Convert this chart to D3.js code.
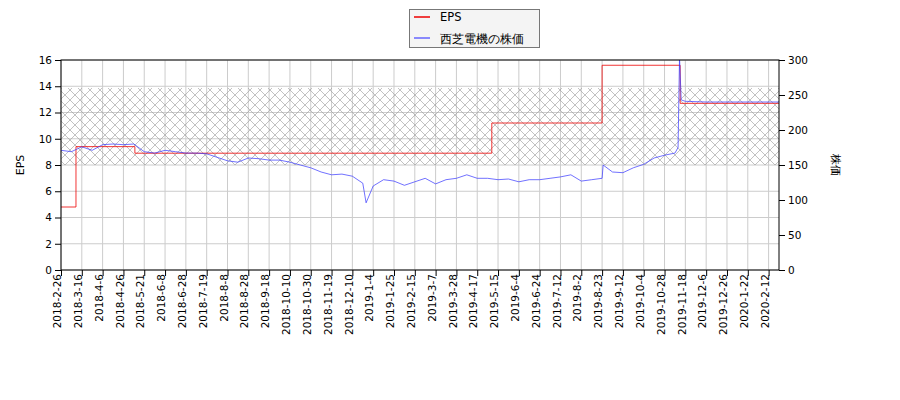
<!DOCTYPE html>
<html><head><meta charset="utf-8">
<script src="https://cdn.jsdelivr.net/npm/d3@7"></script>
<style>body{margin:0;background:#fff}text{font-family:"DejaVu Sans",sans-serif}</style>
</head><body>
<svg id="c" width="900" height="400"></svg>
<script>
// tick labels, one every 14 trading days
var tickLabels = ["2018-2-26","2018-3-16","2018-4-6","2018-4-26","2018-5-21","2018-6-8","2018-6-28","2018-7-19","2018-8-8","2018-8-28","2018-9-18","2018-10-10","2018-10-30","2018-11-19","2018-12-10","2019-1-4","2019-1-25","2019-2-15","2019-3-7","2019-3-28","2019-4-17","2019-5-15","2019-6-4","2019-6-24","2019-7-12","2019-8-2","2019-8-23","2019-9-12","2019-10-4","2019-10-28","2019-11-18","2019-12-6","2019-12-26","2020-1-22","2020-2-12"];

// stock price, positions in tick units
var priceX = [0,0.5,1,1.5,2,2.5,3,3.5,4,4.5,5,5.5,6,6.5,7,7.5,8,8.5,9,9.5,10,10.5,11,11.5,12,12.5,13,13.5,14,14.5,14.66,15,15.5,16,16.5,17,17.5,18,18.5,19,19.5,20,20.5,21,21.5,22,22.5,23,23.5,24,24.5,25,25.5,26,26.05,26.5,27,27.5,28,28.5,29,29.5,29.65,29.72,29.8,30,31,32,33,34,34.5];
var priceY = [171,169,176,171,179,180,179,180,169,167,171,169,167,167,166,161,156,154,160,159,157,157,154,150,146,140,136,137,134,124,96,120,129,127,121,126,131,123,129,131,136,131,131,129,130,126,129,129,131,133,136,127,129,131,150,140,139,146,151,160,164,167,175,304,243,241,240,240,240,240,240];

// EPS steps
var epsX = [0,0.72,3.55,20.7,26.0,29.75,34.5];
var epsY = [4.8,9.4,8.9,11.2,15.6,12.7,12.7];

var svg = d3.select("#c");
var m = {l:61, r:779, t:60, b:270};
var x = d3.scaleLinear().domain([0,34.5]).range([m.l,m.r]);
var yL = d3.scaleLinear().domain([0,16]).range([m.b,m.t]);
var yR = d3.scaleLinear().domain([0,300]).range([m.b,m.t]);

var pat = svg.append("defs").append("pattern").attr("id","h").attr("patternUnits","userSpaceOnUse").attr("width",10).attr("height",10);
pat.append("path").attr("d","M0,0L10,10M10,0L0,10").attr("stroke","#999").attr("stroke-width",0.6);

// grid
svg.append("g").selectAll("line").data(d3.range(0,35)).join("line")
  .attr("x1",d=>x(d)).attr("x2",d=>x(d)).attr("y1",m.t).attr("y2",m.b).attr("stroke","#ccc");
svg.append("g").selectAll("line").data(d3.range(0,17,2)).join("line")
  .attr("x1",m.l).attr("x2",m.r).attr("y1",d=>yL(d)).attr("y2",d=>yL(d)).attr("stroke","#ccc");

svg.append("rect").attr("x",m.l).attr("width",m.r-m.l).attr("y",yR(260)).attr("height",yR(150)-yR(260))
  .attr("fill","url(#h)");

var clip = svg.append("clipPath").attr("id","cl").append("rect").attr("x",m.l).attr("y",m.t).attr("width",m.r-m.l).attr("height",m.b-m.t);

svg.append("path").datum(epsX.map((d,i)=>[d,epsY[i]])).attr("fill","none").attr("stroke","#e00").attr("stroke-width",0.8)
  .attr("d",d3.line().x(d=>x(d[0])).y(d=>yL(d[1])).curve(d3.curveStepAfter));
svg.append("path").datum(priceX.map((d,i)=>[d,priceY[i]])).attr("clip-path","url(#cl)").attr("fill","none").attr("stroke","#33f").attr("stroke-width",0.7)
  .attr("d",d3.line().x(d=>x(d[0])).y(d=>yR(d[1])));

svg.append("rect").attr("x",m.l).attr("y",m.t).attr("width",m.r-m.l).attr("height",m.b-m.t).attr("fill","none").attr("stroke","#000");

var ax = svg.append("g").attr("transform","translate(0,"+m.b+")")
  .call(d3.axisBottom(x).tickValues(d3.range(0,35)).tickFormat(d=>tickLabels[d]).tickSizeOuter(0));
ax.selectAll("text").attr("transform","rotate(-90)").attr("text-anchor","end").attr("x",-4).attr("y",-4).attr("dy","0.35em");
svg.append("g").attr("transform","translate("+m.l+",0)").call(d3.axisLeft(yL).ticks(8).tickSizeOuter(0));
svg.append("g").attr("transform","translate("+m.r+",0)").call(d3.axisRight(yR).ticks(6).tickSizeOuter(0));
svg.selectAll(".tick text").attr("font-size",10.5).attr("font-family","DejaVu Sans");
svg.selectAll(".domain").remove();

svg.append("text").attr("transform","translate(24,165) rotate(-90)").attr("text-anchor","middle").attr("font-size",11).text("EPS");
svg.append("text").attr("transform","translate(832,165) rotate(90)").attr("text-anchor","middle").attr("font-size",11).attr("font-family","Noto Sans CJK JP").text("株価");

var lg = svg.append("g");
lg.append("rect").attr("x",409.5).attr("y",9.5).attr("width",130).attr("height",38).attr("fill","#f4f4f4").attr("stroke","#777");
lg.append("line").attr("x1",414).attr("x2",430).attr("y1",17).attr("y2",17).attr("stroke","#e00").attr("stroke-width",1.5);
lg.append("line").attr("x1",414).attr("x2",430).attr("y1",38).attr("y2",38).attr("stroke","#66f").attr("stroke-width",1.5);
lg.append("text").attr("x",440).attr("y",21).attr("font-size",11.5).text("EPS");
lg.append("text").attr("x",440).attr("y",43).attr("font-size",11.5).attr("font-family","Noto Sans CJK JP").text("西芝電機の株価");
</script>
</body></html>
